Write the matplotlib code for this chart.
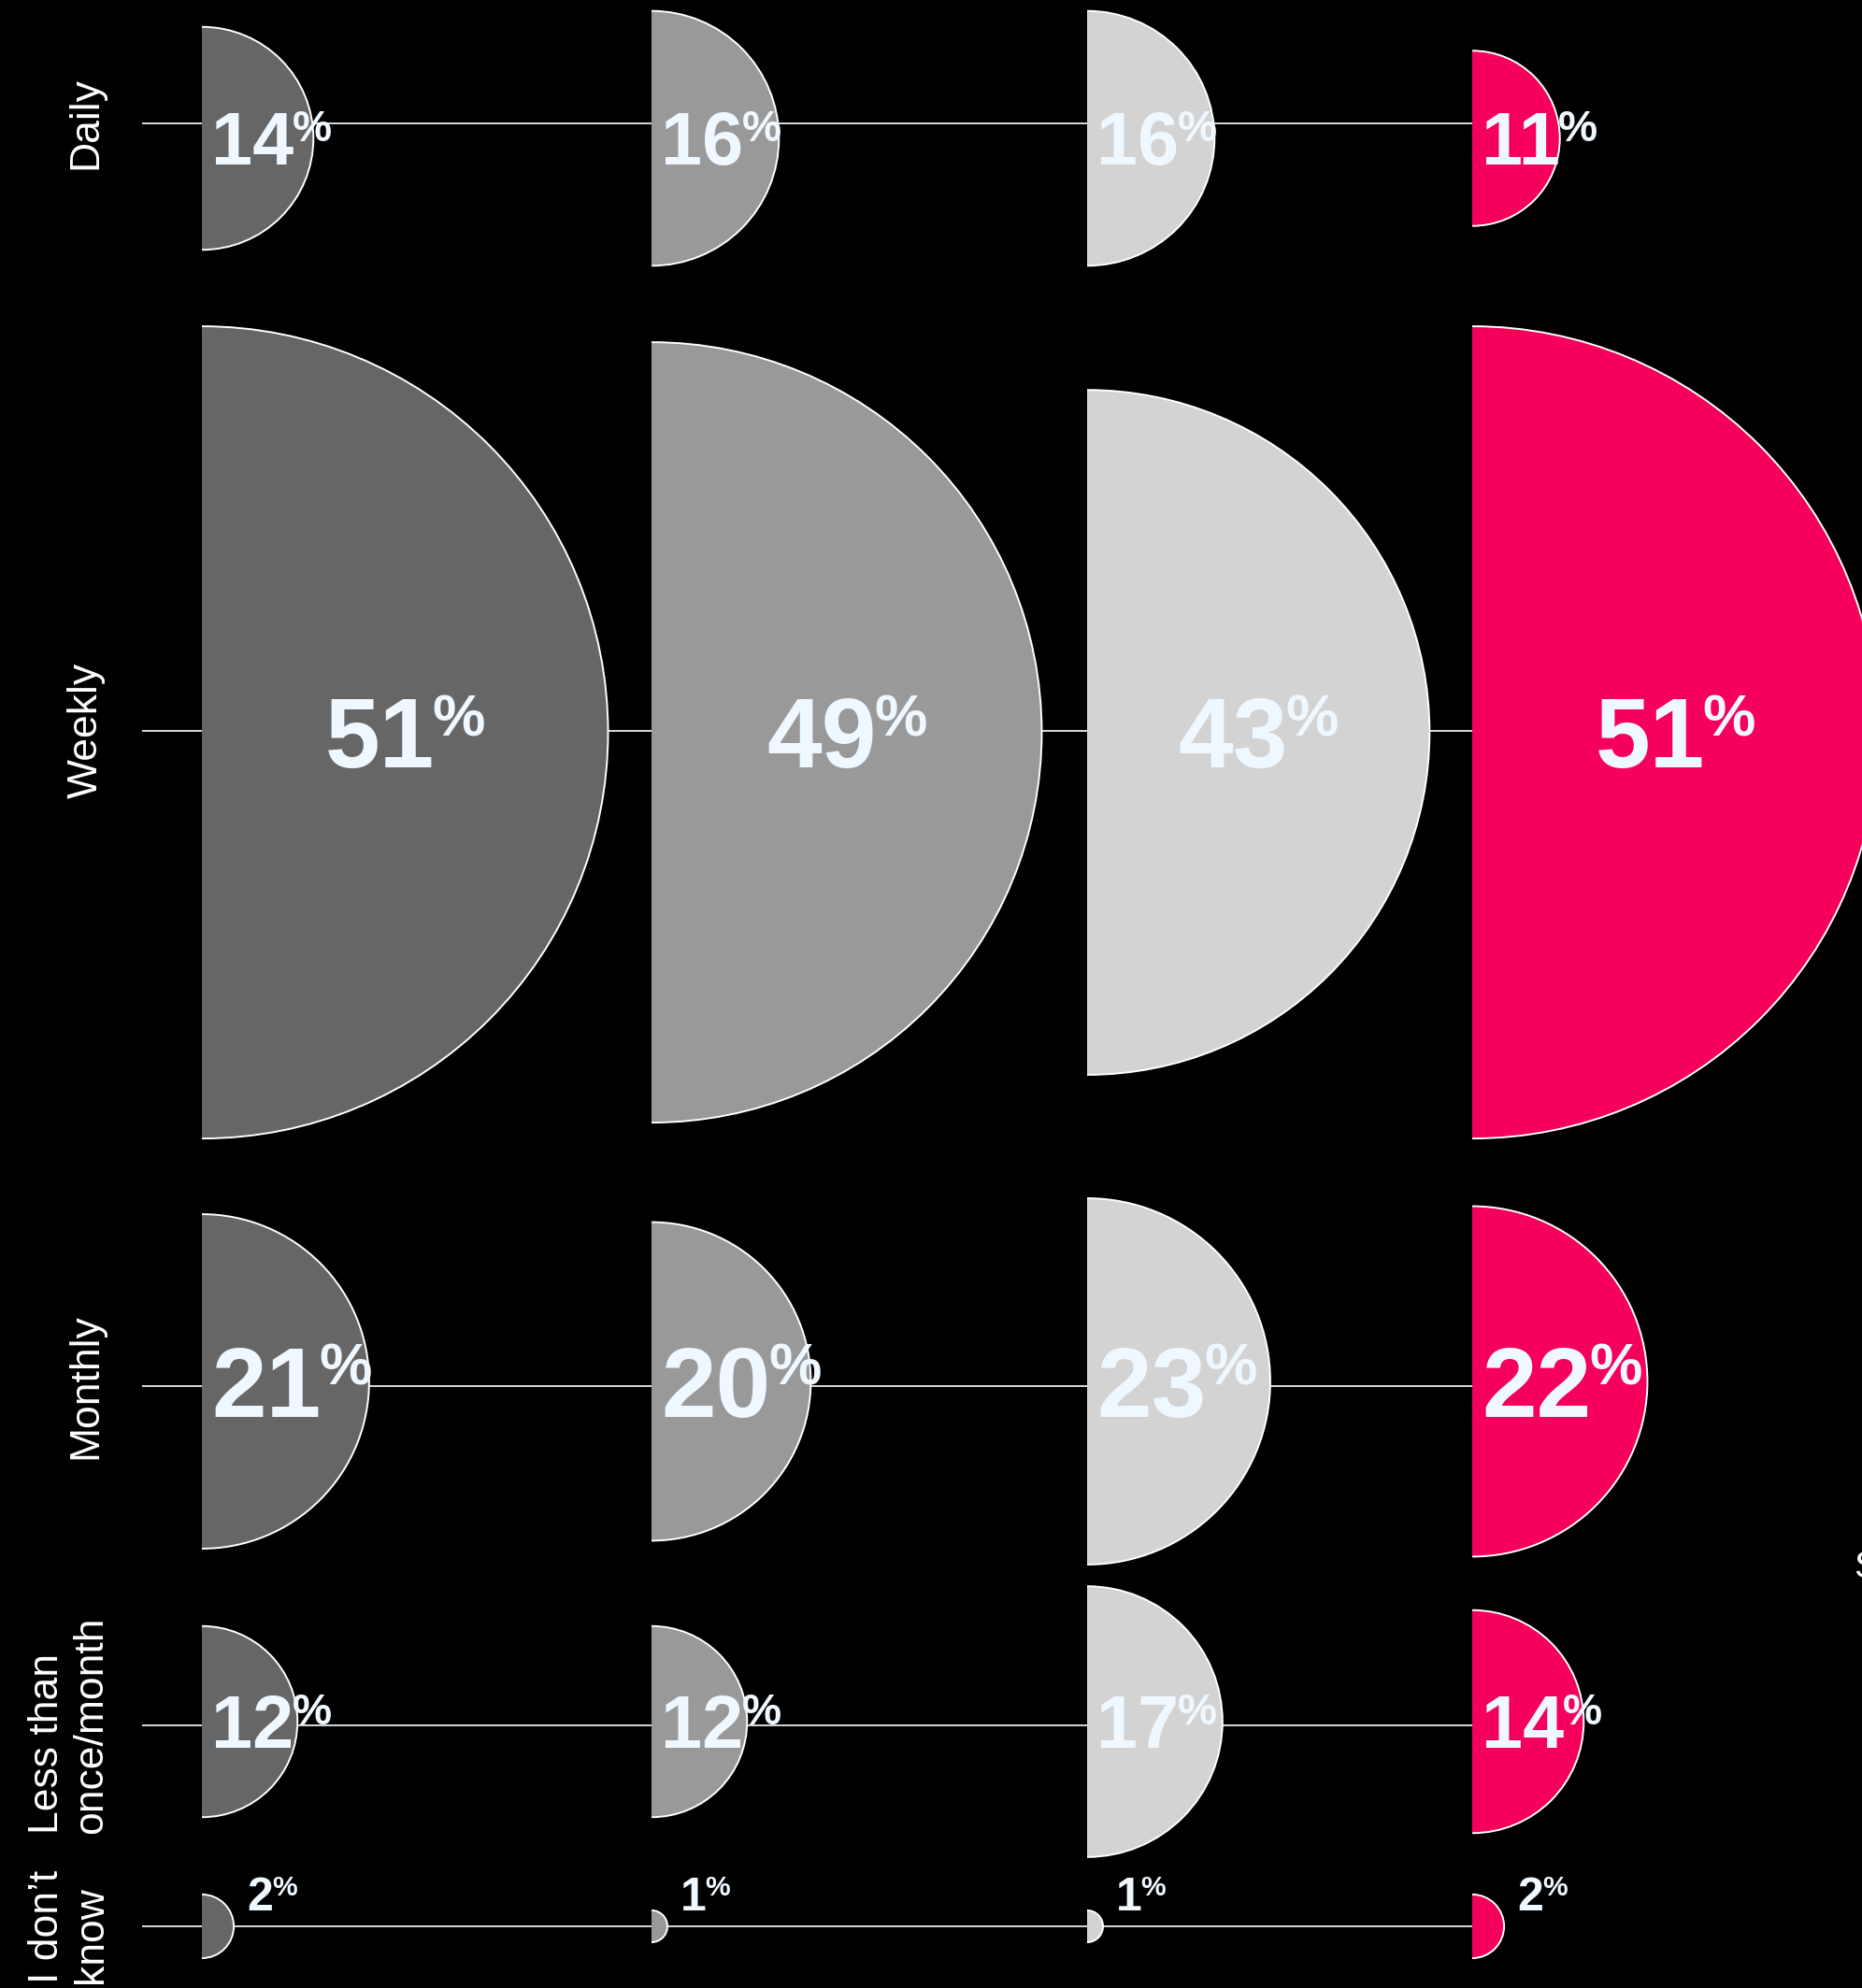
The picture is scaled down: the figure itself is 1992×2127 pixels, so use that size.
import matplotlib
matplotlib.use('Agg')
import matplotlib.pyplot as plt
from matplotlib.patches import Wedge, Arc

plt.rcParams['font.family'] = ['Liberation Sans', 'DejaVu Sans']

# survey answers, one list per group (share of respondents, %)
frequencies = ['Daily', 'Weekly', 'Monthly', 'Less than\nonce/month', 'I don\u2019t\nknow']
group_1 = [14, 51, 21, 12, 2]
group_2 = [16, 49, 20, 12, 1]
group_3 = [16, 43, 23, 17, 1]
group_4 = [11, 51, 22, 14, 2]
groups = [group_1, group_2, group_3, group_4]
group_colors = ['#666666', '#999999', '#d3d3d3', '#f5005a']

# layout, in pixels (axes spans the whole canvas, y grows downward)
W, H = 1992, 2127
col_x = [216, 697, 1163, 1575]          # flat edge of each half disc
line_y = [131.6, 781.6, 1483, 1845.6, 2061]
centre_y = [148, 783.6, 1478, 1842, 2061]
px_per_pct = 8.52
row_zoom = [1, 1, 1, 1, 2]               # tiny values get blown up
value_size = [57, 76, 76, 57, 36]
value_mode = ['left', 'centre', 'left', 'left', 'outside']
label_x = [92, 92, 92, 74, 74]
TXT = '#f0f8ff'

fig = plt.figure(figsize=(W / 100, H / 100), dpi=100, facecolor='black')
ax = fig.add_axes([0, 0, 1, 1])
ax.set_xlim(0, W)
ax.set_ylim(H, 0)
ax.set_facecolor('black')
ax.axis('off')
renderer = fig.canvas.get_renderer()
inv = ax.transData.inverted()


def text_width(t):
    bb = t.get_window_extent(renderer)
    (x0, _), (x1, _) = inv.transform([[bb.x0, bb.y0], [bb.x1, bb.y1]])
    return x1 - x0


def pct_label(x, y_base, value, size, mode, flat_x, r):
    cap = 0.716 * size * 100 / 72
    num = ax.text(0, y_base, str(value), fontsize=size, fontweight='bold',
                  color=TXT, ha='left', va='baseline', zorder=5)
    pct = ax.text(0, y_base - 0.45 * cap, '%', fontsize=size * 0.6,
                  fontweight='bold', color=TXT, ha='left', va='baseline', zorder=5)
    wn = text_width(num) - 0.03 * cap
    wp = text_width(pct)
    if mode == 'centre':
        x = flat_x + r / 2 - (wn + wp) / 2
    num.set_x(x)
    pct.set_x(x + wn)


# guide lines for every answer
ax.hlines(line_y, 152, col_x[-1], color='white', lw=1.2, zorder=1)

for row, label in enumerate(frequencies):
    ax.text(label_x[row], line_y[row], label, rotation=90, fontsize=32,
            color='white', ha='center', va='center', multialignment='left',
            linespacing=1.2)
    for g, vals in enumerate(groups):
        v = vals[row]
        r = v * px_per_pct * row_zoom[row]
        cx, cy = col_x[g], centre_y[row]
        ax.add_patch(Wedge((cx, cy), r, -90, 90, facecolor=group_colors[g],
                           edgecolor='none', zorder=2))
        ax.add_patch(Arc((cx, cy), 2 * r, 2 * r, theta1=-90, theta2=90,
                         color='white', lw=1.4, zorder=3))

        size = value_size[row]
        cap = 0.716 * size * 100 / 72
        mode = value_mode[row]
        if mode == 'outside':
            pct_label(cx + r + 14, line_y[row] - 17, v, size, mode, cx, r)
        else:
            pct_label(cx + 10, cy + cap / 2, v, size, mode, cx, r)

# legend text running off the right edge
ax.text(1983, 1688, 'S', fontsize=29, color='white', ha='left', va='baseline')

fig.savefig('out.png', dpi=100, facecolor='black')
